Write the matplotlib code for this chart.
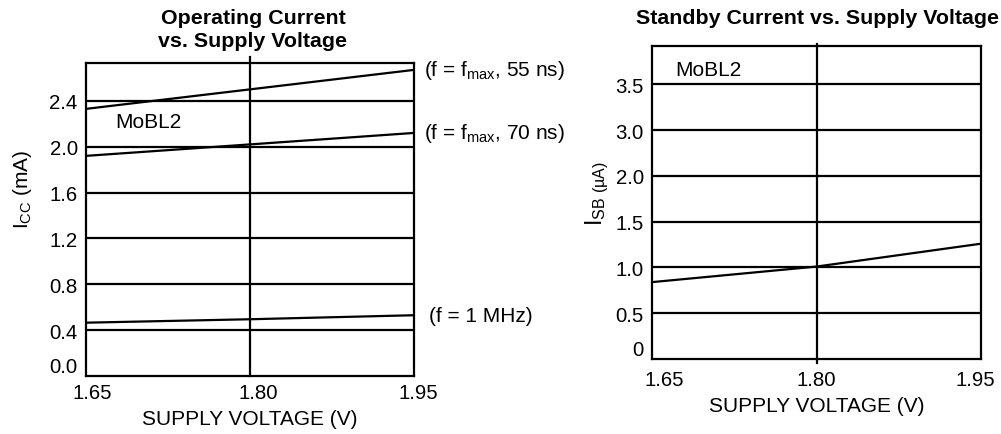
import numpy as np
import matplotlib
matplotlib.use('Agg')
import matplotlib.pyplot as plt
import matplotlib.transforms as mtransforms

plt.rcParams['font.family'] = ['Liberation Sans', 'DejaVu Sans']
plt.rcParams['mathtext.default'] = 'regular'

# data
volts = [1.65, 1.80, 1.95]
icc_55ns = [2.33, 2.50, 2.67]
icc_70ns = [1.92, 2.02, 2.12]
icc_1mhz = [0.465, 0.495, 0.53]
isb = [0.84, 1.01, 1.26]

icc_ticks = [0.0, 0.4, 0.8, 1.2, 1.6, 2.0, 2.4]
icc_ticklabels = ['0.0', '0.4', '0.8', '1.2', '1.6', '2.0', '2.4']
isb_ticks = [0, 0.5, 1.0, 1.5, 2.0, 3.0, 3.5]
isb_ticklabels = ['0', '0.5', '1.0', '1.5', '2.0', '3.0', '3.5']
volt_ticks = [1.65, 1.80, 1.95]
volt_ticklabels = ['1.65', '1.80', '1.95']

W, H = 1001, 435
fig = plt.figure(figsize=(W/100, H/100), dpi=100)

def px_axes(x0, y0, x1, y1):
    return fig.add_axes([x0/W, 1-y1/H, (x1-x0)/W, (y1-y0)/H])

lw = 1.6
fs = 15
tkfs = 14.7
tfs = 15.4

def style(ax, vtop, vbot):
    for s in ax.spines.values():
        s.set_linewidth(lw)
    ax.tick_params(length=0, labelsize=tkfs)
    ax.set_xlim(1.65, 1.95)
    ax.set_xticks(volt_ticks)
    ax.set_xticklabels(volt_ticklabels)
    ax.axvline(1.80, ymin=vbot, ymax=vtop, color='black', lw=lw, clip_on=False)

def nudge(labels, dxs):
    # the scanned chart has its x labels slightly off-centre
    for lab, dx in zip(labels, dxs):
        lab.set_transform(lab.get_transform() +
                          mtransforms.ScaledTranslation(dx/100, 0, fig.dpi_scale_trans))

# left: operating current
ax1 = px_axes(86, 64, 414, 377)
style(ax1, 1.019, 0)
ax1.set_ylim(0, 2.73)
ax1.set_yticks(icc_ticks)
ax1.set_yticklabels(icc_ticklabels)
for t in icc_ticks[1:]:
    ax1.axhline(t, color='black', lw=lw)
ax1.yaxis.get_ticklabels()[0].set_va('bottom')
ax1.tick_params(axis='y', pad=6)
ax1.tick_params(axis='x', pad=5)
nudge(ax1.get_xticklabels(), [6, 8, 4])
ax1.plot(volts, icc_55ns, color='black', lw=lw)
ax1.plot(volts, icc_70ns, color='black', lw=lw)
ax1.plot(volts, icc_1mhz, color='black', lw=lw)
ax1.text(1.677, 2.22, 'MoBL2', fontsize=fs, va='center')
ax1.annotate('(f = f$_{max}$, 55 ns)', (1.95, icc_55ns[-1]), xytext=(7, 0),
             textcoords='offset points', fontsize=fs, va='center', annotation_clip=False)
ax1.annotate('(f = f$_{max}$, 70 ns)', (1.95, icc_70ns[-1]), xytext=(7, 0),
             textcoords='offset points', fontsize=fs, va='center', annotation_clip=False)
ax1.annotate('(f = 1 MHz)', (1.95, icc_1mhz[-1]), xytext=(11, 0),
             textcoords='offset points', fontsize=fs, va='center', annotation_clip=False)
fig.text(253/W, 1-30/H, 'Operating Current\nvs. Supply Voltage', fontsize=tfs,
         fontweight='bold', ha='center', va='center', linespacing=1.25)
ax1.set_ylabel('$I_{CC}$ (mA)', fontsize=fs)
ax1.yaxis.set_label_coords(-0.16, 0.60)
ax1.set_xlabel('SUPPLY VOLTAGE (V)', fontsize=fs, labelpad=5)

# right: standby current, non-uniform axis (2.0 -> 3.0 step)
vals = [0, 0.5, 1.0, 1.5, 2.0, 3.0, 3.5, 4.0]
pos = [0, 1, 2, 3, 4, 5, 6, 7]
fwd = lambda v: np.interp(v, vals, pos)
inv = lambda p: np.interp(p, pos, vals)

ax2 = px_axes(652, 47, 981, 360)
style(ax2, 1.006, -0.013)
ax2.set_yscale('function', functions=(fwd, inv))
ax2.set_ylim(0, 3.92)
ax2.set_yticks(isb_ticks)
ax2.set_yticklabels(isb_ticklabels)
ax2.yaxis.set_minor_locator(matplotlib.ticker.NullLocator())
for t in isb_ticks[1:]:
    ax2.axhline(t, color='black', lw=lw)
ax2.yaxis.get_ticklabels()[0].set_va('bottom')
ax2.tick_params(axis='y', pad=6)
ax2.tick_params(axis='x', pad=8)
nudge(ax2.get_xticklabels(), [12, 0, -6])
ax2.plot(volts, isb, color='black', lw=lw)
ax2.text(1.671, 3.665, 'MoBL2', fontsize=fs, va='center')
fig.text(817/W, 1-18/H, 'Standby Current vs. Supply Voltage', fontsize=tfs,
         fontweight='bold', ha='center', va='center')
ax2.set_ylabel('$I_{SB\\ (µA)}$', fontsize=fs + 1.5)
ax2.yaxis.set_label_coords(-0.125, 0.53)
ax2.set_xlabel('SUPPLY VOLTAGE (V)', fontsize=fs, labelpad=5)

fig.savefig('out.png', dpi=100)
